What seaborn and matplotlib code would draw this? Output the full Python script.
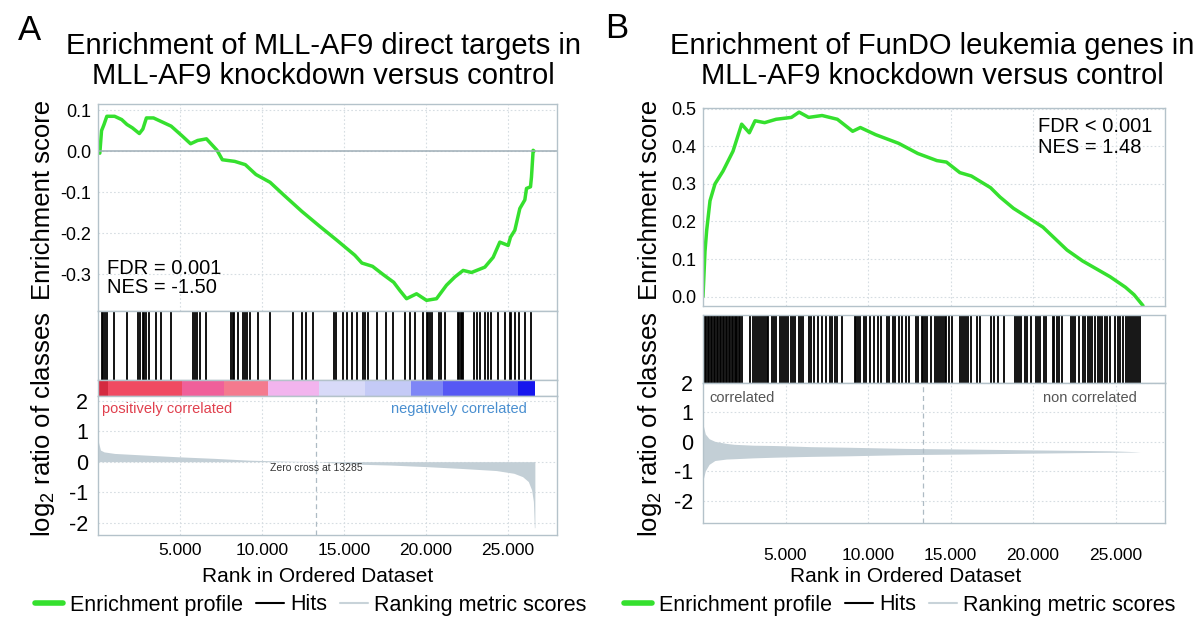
import numpy as np
import matplotlib
matplotlib.use("Agg")
import matplotlib.pyplot as plt
from matplotlib.lines import Line2D
import seaborn as sns

# ---- panel A: MLL-AF9 direct targets ----
a_es_rank = [0, 110, 216, 366, 539, 1013, 1444, 1767, 2090, 2522, 2737, 2953, 3384, 3815,
             4461, 5108, 5647, 6078, 6616, 7263, 7586, 8341, 8987, 9634, 10496, 11358, 12435,
             13513, 14591, 15668, 16099, 16746, 17392, 18039, 18415, 18821, 19431, 20041, 20650,
             21260, 21768, 22276, 22785, 23598, 24106, 24512, 25020, 25163, 25427, 25732, 26037,
             26140, 26383, 26443, 26545, 26600]
a_es_score = [0.0, -0.005, 0.05, 0.065, 0.085, 0.085, 0.077, 0.065, 0.057, 0.043, 0.054, 0.081,
              0.081, 0.073, 0.061, 0.038, 0.018, 0.026, 0.030, 0.002, -0.021, -0.025, -0.033,
              -0.057, -0.076, -0.108, -0.147, -0.183, -0.218, -0.254, -0.273, -0.281, -0.301,
              -0.320, -0.340, -0.360, -0.348, -0.364, -0.360, -0.327, -0.307, -0.291, -0.296,
              -0.283, -0.259, -0.222, -0.230, -0.210, -0.193, -0.140, -0.119, -0.091, -0.087,
              -0.063, 0.002, 0.0]
a_hits = [218, 327, 435, 544, 980, 1785, 2438, 2547, 2765, 2830, 2939, 3091, 3527, 3853, 4463,
          5813, 5921, 6030, 6248, 6575, 8098, 8207, 8316, 8534, 8860, 8969, 9078, 9296, 9731,
          10493, 11865, 12452, 12670, 13105, 14411, 14520, 14956, 15173, 15500, 15827, 16153,
          16262, 16480, 17024, 17568, 18004, 18720, 19024, 19329, 19837, 20040, 20140, 20240,
          20345, 20811, 20951, 21159, 21970, 22050, 22130, 22200, 22275, 22927, 23130, 23293,
          23598, 23801, 24004, 24410, 24817, 25122, 25223, 25427, 25691, 26037, 26402]
a_metric_rank = [0, 150, 370, 1010, 2740, 4890, 7050, 9200, 11360, 13285, 15670, 17820, 19980,
                 22130, 24290, 25370, 25900, 26250, 26450, 26560, 26620, 26650]
a_metric = [0.70, 0.38, 0.32, 0.27, 0.22, 0.16, 0.11, 0.05, 0.02, 0.0, -0.08, -0.11, -0.16,
            -0.22, -0.29, -0.38, -0.49, -0.65, -0.92, -1.3, -2.16, -2.16]
a_bar_start = [0, 580, 5100, 7700, 10400, 13500, 16300, 19100, 21050, 25600]
a_bar_end = [580, 5100, 7700, 10400, 13500, 16300, 19100, 21050, 25600, 26650]
a_bar_colors = ["#D42A40", "#F04A62", "#F0609A", "#F47A8E", "#F2B4EE",
                "#D8DAF8", "#C4CAF6", "#7E86F6", "#5658F4", "#1616EE"]
a_zero_cross = 13285

# ---- panel B: FunDO leukemia genes ----
b_es_rank = [0, 60, 120, 222, 424, 727, 1212, 1818, 2343, 2807, 3155, 3735, 4431, 5359, 5824,
             6403, 7215, 8143, 9071, 9535, 10463, 11855, 13015, 14175, 14755, 15567, 16263,
             17424, 18000, 18816, 20600, 22060, 23000, 24667, 25600, 26125, 26667]
b_es_score = [0.0, 0.06, 0.12, 0.176, 0.255, 0.30, 0.334, 0.387, 0.459, 0.436, 0.468, 0.463,
              0.472, 0.477, 0.491, 0.477, 0.482, 0.472, 0.44, 0.45, 0.431, 0.408, 0.381, 0.362,
              0.358, 0.33, 0.321, 0.29, 0.265, 0.235, 0.185, 0.124, 0.095, 0.053, 0.025, 0.005,
              -0.024]
b_hits = [30, 120, 200, 290, 380, 470, 560, 650, 740, 830, 920, 1010, 1100, 1190, 1280, 1370,
          1460, 1550, 1640, 1730, 1820, 1910, 2000, 2090, 2180, 2270, 2340,
          2877, 3039, 3155, 3271, 3387, 3503, 3619, 3735, 3851, 3967, 4153, 4315, 4431, 4663,
          4779, 4895, 5011, 5127, 5359, 5475, 5591, 5823, 5939, 6055, 6403, 6519, 6751, 6983,
          7215, 7447, 7679, 7795, 8027, 8143, 8421, 9187, 9303, 9419, 9535, 9767, 9883, 10115,
          10347, 10579, 10811, 11159, 11275, 11507, 11623, 11855, 12087, 12319, 12505, 12899,
          13015, 13247, 13363, 13479, 13595, 13827, 14059, 14175, 14291, 14407, 14523, 14639,
          14755, 14918, 15103, 15567, 15683, 15799, 15915, 16031, 16217, 16611, 16797, 17470,
          17655, 17887, 18235, 18931, 19047, 19163, 19279, 19511, 19627, 19859, 20207, 20323,
          20439, 20671, 20787, 21182, 21298, 21483, 21599, 21785, 22295, 22411, 22574, 22759,
          23038, 23177, 23339, 23455, 23571, 23734, 23919, 24035, 24198, 24338, 24499, 24685,
          24963, 25126, 25265, 25427, 25659, 25775, 25891, 26007, 26123, 26239, 26355, 26471]
b_metric_rank = [0, 140, 370, 720, 1420, 1880, 3040, 4200, 4900, 6520, 8840, 12320, 15800,
                 19980, 24620, 26240, 26500]
b_metric_hi = [0.6, 0.27, 0.11, 0.02, -0.05, -0.08, -0.11, -0.12, -0.13, -0.16, -0.18, -0.22,
               -0.24, -0.27, -0.30, -0.33, -0.33]
b_metric_lo = [-1.3, -0.98, -0.76, -0.63, -0.58, -0.57, -0.54, -0.52, -0.51, -0.49, -0.47,
               -0.43, -0.41, -0.38, -0.35, -0.34, -0.33]
b_zero_cross = 13330

rank_ticks = [5000, 10000, 15000, 20000, 25000]
rank_labels = [f"{t:,}".replace(",", ".") for t in rank_ticks]

GREEN = "#35E02E"
SPINE = "#B4C2CA"
GRID = "#D6DDE2"
METRIC = "#C3CFD6"

sns.set_theme(style="white")
plt.rcParams["font.family"] = ["Liberation Sans", "DejaVu Sans"]
plt.rcParams["mathtext.default"] = "regular"
plt.rcParams["text.color"] = "black"

W, H = 1200, 623
fig = plt.figure(figsize=(W / 100, H / 100), dpi=100)


def add_ax(left, top, right, bottom):
    return fig.add_axes([left / W, 1 - bottom / H, (right - left) / W, (bottom - top) / H])


def frame(ax, grid=True):
    for s in ax.spines.values():
        s.set_color(SPINE)
        s.set_linewidth(1.0)
    ax.set_xlim(0, 28000)
    ax.tick_params(length=0, labelsize=13, colors="black", pad=5, labelbottom=False)
    if grid:
        ax.set_xticks(rank_ticks)
        ax.grid(True, linestyle=(0, (1.5, 2)), color=GRID, linewidth=0.8)
    else:
        ax.set_xticks([])
        ax.set_yticks([])


def es_panel(ax, ranks, scores, ylim, yticks):
    sns.lineplot(x=ranks, y=scores, color=GREEN, linewidth=2.5, ax=ax)
    ax.set_ylim(ylim)
    ax.set_yticks(yticks)
    ax.set_yticklabels([f"{v:.1f}" for v in yticks])
    ax.set_xlabel("")
    ax.set_ylabel("")
    frame(ax)


def hits_panel(ax, hits):
    ax.vlines(hits, 0, 1, color="black", linewidth=1.3)
    ax.set_ylim(0, 1)
    frame(ax, grid=False)


def rank_panel(ax, ylim, zero_cross, pad):
    ax.axvline(zero_cross, color="#AEBBC4", linewidth=0.9, linestyle=(0, (4, 3)))
    ax.set_ylim(ylim)
    ax.set_yticks([-2, -1, 0, 1, 2])
    ax.set_yticklabels(["-2", "-1", "0", "1", "2"])
    frame(ax)
    ax.tick_params(axis="y", labelsize=15.5, pad=7)
    ax.tick_params(axis="x", labelbottom=True, labelsize=12.5, pad=pad)
    ax.set_xticklabels(rank_labels)


# ---------- panel A ----------
ax = add_ax(98, 104, 557, 311)
es_panel(ax, a_es_rank, a_es_score, (-0.39, 0.115), [-0.3, -0.2, -0.1, 0.0, 0.1])
ax.axhline(0, color="#9EADB6", linewidth=1.1)
ax.text(550, -0.262, "FDR = 0.001\nNES = -1.50", fontsize=14.5, va="top", ha="left",
        linespacing=1.05)

ax = add_ax(98, 311, 557, 380)
hits_panel(ax, a_hits)

ax = add_ax(98, 380, 557, 396)
ax.barh(0, np.subtract(a_bar_end, a_bar_start), left=a_bar_start, height=1,
        color=a_bar_colors, linewidth=0)
ax.set_ylim(-0.5, 0.5)
frame(ax, grid=False)

ax = add_ax(98, 396, 557, 535)
ax.fill_between(a_metric_rank, 0, a_metric, color=METRIC, linewidth=0)
rank_panel(ax, (-2.4, 2.15), a_zero_cross, 6)
ax.text(250, 1.72, "positively correlated", color="#E0404E", fontsize=10.5, va="center")
ax.text(26150, 1.72, "negatively correlated", color="#4A8FD0", fontsize=10.5, va="center",
        ha="right")
ax.text(13300, -0.2, f"Zero cross at {a_zero_cross}", fontsize=7.5, color="#333333",
        ha="center", va="center")

# ---------- panel B ----------
ax = add_ax(703, 108, 1165, 306)
es_panel(ax, b_es_rank, b_es_score, (-0.025, 0.502), [0.0, 0.1, 0.2, 0.3, 0.4, 0.5])
ax.text(20300, 0.478, "FDR < 0.001\nNES = 1.48", fontsize=14.5, va="top", ha="left",
        linespacing=1.15)

ax = add_ax(703, 315, 1165, 383)
hits_panel(ax, b_hits)

ax = add_ax(703, 383, 1165, 523)
ax.fill_between(b_metric_rank, b_metric_lo, b_metric_hi, color=METRIC, linewidth=0)
rank_panel(ax, (-2.75, 1.95), b_zero_cross, 18)
ax.text(400, 1.5, "correlated", color="#555555", fontsize=10.5, va="center")
ax.text(26300, 1.5, "non correlated", color="#555555", fontsize=10.5, va="center", ha="right")

# ---------- shared text ----------
fig.text(323 / W, 1 - 61 / H, "Enrichment of MLL-AF9 direct targets in\nMLL-AF9 knockdown versus control",
         fontsize=21, ha="center", va="center", linespacing=1.12)
fig.text(932 / W, 1 - 61 / H, "Enrichment of FunDO leukemia genes in\nMLL-AF9 knockdown versus control",
         fontsize=21, ha="center", va="center", linespacing=1.12)
fig.text(29 / W, 1 - 30 / H, "A", fontsize=25, ha="center", va="center")
fig.text(617 / W, 1 - 29 / H, "B", fontsize=25, ha="center", va="center")

for x in (43, 650):
    fig.text(x / W, 1 - 200 / H, "Enrichment score", rotation=90, fontsize=18.5,
             ha="center", va="center")
    fig.text(x / W, 1 - 424 / H, "log$_2$ ratio of classes", rotation=90, fontsize=18.5,
             ha="center", va="center")

fig.text(318 / W, 1 - 577 / H, "Rank in Ordered Dataset", fontsize=15, ha="center", va="center")
fig.text(906 / W, 1 - 577 / H, "Rank in Ordered Dataset", fontsize=15, ha="center", va="center")

handles = [Line2D([], [], color=GREEN, linewidth=4),
           Line2D([], [], color="black", linewidth=1.5),
           Line2D([], [], color="#C8D3D9", linewidth=1.5)]
labels = ["Enrichment profile", "Hits", "Ranking metric scores"]
for cx in (311, 900):
    fig.legend(handles, labels, loc="center", bbox_to_anchor=(cx / W, 1 - 605 / H), ncol=3,
               frameon=False, fontsize=15.5, handlelength=1.3, handletextpad=0.3,
               columnspacing=0.6, borderpad=0)

fig.savefig("out.png", dpi=100)
